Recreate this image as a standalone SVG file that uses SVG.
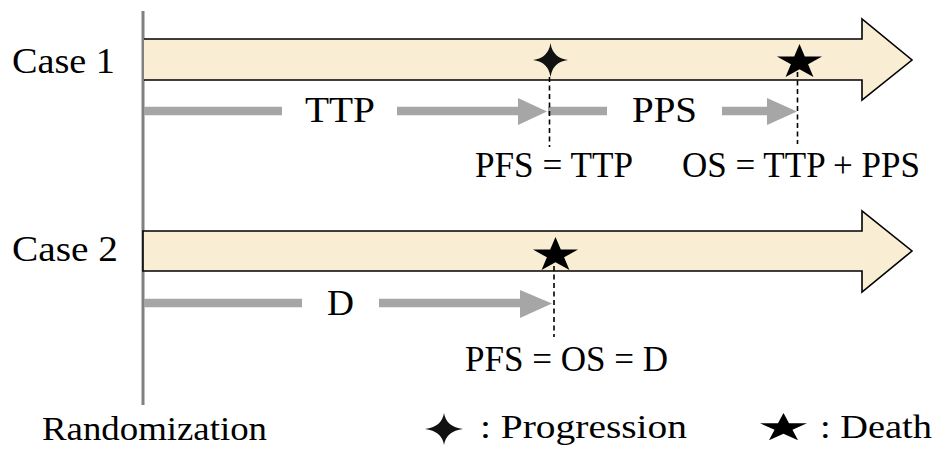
<svg xmlns="http://www.w3.org/2000/svg" xmlns:xlink="http://www.w3.org/1999/xlink" width="936" height="449" viewBox="0 0 936 449">
  <style>
    .lbl { font-family: "Liberation Serif", "Times New Roman", serif; font-size: 35px; fill: #000; }
    .leg { font-family: "Liberation Serif", "Times New Roman", serif; font-size: 33px; fill: #000; }
    .band { fill: #F9EDD3; stroke: #000; stroke-width: 1.6; stroke-linejoin: miter; }
    .bar { stroke: #A6A6A6; stroke-width: 8.5; fill: none; }
    .head { fill: #A6A6A6; }
    .dash { stroke: #000; stroke-width: 1.6; stroke-dasharray: 5 3.5; fill: none; }
    .axis { stroke: #808080; stroke-width: 3; }
  </style>
  <defs>
    <!-- unit five-pointed star, outer radius 1 -->
    <path id="star" d="M0,-1 L0.2245,-0.309 L0.951,-0.309 L0.363,0.118 L0.588,0.809 L0,0.382 L-0.588,0.809 L-0.363,0.118 L-0.951,-0.309 L-0.2245,-0.309 Z" fill="#000"/>
    <!-- unit four-pointed sparkle -->
    <path id="sparkle" d="M0,-1 Q0.12,-0.12 1,0 Q0.12,0.12 0,1 Q-0.12,0.12 -1,0 Q-0.12,-0.12 0,-1 Z" fill="#111"/>
  </defs>

  <!-- randomization axis -->
  <g id="randomization-axis">
    <line class="axis" x1="143" y1="11" x2="143" y2="405"/>
  </g>

  <!-- case 1 timeline -->
  <g id="case1">
    <path class="band" d="M144,39 L862,39 L862,19 L912,60 L862,100 L862,80 L144,80"/>
    <text class="lbl" x="12" y="73" textLength="103" lengthAdjust="spacingAndGlyphs">Case 1</text>
    <use xlink:href="#sparkle" href="#sparkle" transform="translate(550.5,60) scale(17.5,17)"/>
    <use xlink:href="#star" href="#star" transform="translate(799.5,62.2) scale(23.7,18.2)"/>
    <text class="lbl" x="305" y="122" textLength="70" lengthAdjust="spacingAndGlyphs">TTP</text>
    <text class="lbl" x="632" y="122" textLength="65" lengthAdjust="spacingAndGlyphs">PPS</text>
    <text class="lbl" x="475" y="177" textLength="158" lengthAdjust="spacingAndGlyphs">PFS = TTP</text>
    <text class="lbl" x="682" y="177" textLength="238" lengthAdjust="spacingAndGlyphs">OS = TTP + PPS</text>
  </g>

  <!-- case 2 timeline -->
  <g id="case2">
    <path class="band" d="M143,231 L862,231 L862,211 L912,251 L862,292 L862,271 L143,271 Z"/>
    <text class="lbl" x="12" y="261" textLength="106" lengthAdjust="spacingAndGlyphs">Case 2</text>
    <use xlink:href="#star" href="#star" transform="translate(555.5,255.2) scale(23.7,18.2)"/>
    <text class="lbl" x="327" y="315" textLength="27" lengthAdjust="spacingAndGlyphs">D</text>
    <text class="lbl" x="465" y="371" textLength="203" lengthAdjust="spacingAndGlyphs">PFS = OS = D</text>
  </g>

  <!-- interval arrows and event markers -->
  <g id="connectors">
    <line class="bar" x1="144" y1="111" x2="282" y2="111"/>
    <line class="bar" x1="397" y1="111" x2="520" y2="111"/>
    <polygon class="head" points="518,98 547,111.5 518,125"/>
    <line class="bar" x1="548" y1="111" x2="607" y2="111"/>
    <line class="bar" x1="722" y1="111" x2="769" y2="111"/>
    <polygon class="head" points="767,98 797,111.5 767,125"/>
    <line class="dash" x1="549.5" y1="77" x2="549.5" y2="147"/>
    <line class="dash" x1="797.5" y1="72" x2="797.5" y2="144"/>

    <line class="bar" x1="144" y1="303" x2="302" y2="303"/>
    <line class="bar" x1="379" y1="303" x2="522" y2="303"/>
    <polygon class="head" points="520,290 552,303.5 520,318"/>
    <line class="dash" x1="554" y1="266" x2="554" y2="337"/>
  </g>

  <!-- legend -->
  <g id="legend">
    <text class="leg" x="42" y="440" textLength="225" lengthAdjust="spacingAndGlyphs">Randomization</text>
    <use xlink:href="#sparkle" href="#sparkle" transform="translate(444,429) scale(19,16)"/>
    <text class="leg" x="480" y="438" textLength="207" lengthAdjust="spacingAndGlyphs">: Progression</text>
    <use xlink:href="#star" href="#star" transform="translate(783.5,428) scale(24.7,15)"/>
    <text class="leg" x="820" y="438" textLength="112" lengthAdjust="spacingAndGlyphs">: Death</text>
  </g>
</svg>
